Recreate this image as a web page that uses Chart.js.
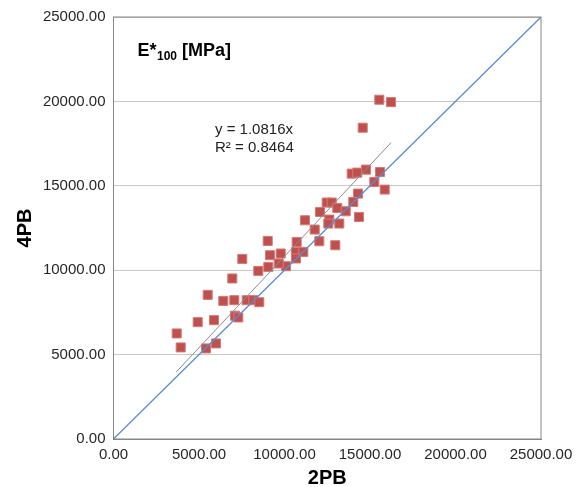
<!DOCTYPE html>
<html>
<head>
<meta charset="utf-8">
<script src="https://cdn.jsdelivr.net/npm/chart.js@4.4.0/dist/chart.umd.min.js"></script>
<style>
  body { margin: 0; background: #fff; }
  #wrap { width: 585px; height: 487px; position: relative; }
</style>
</head>
<body>
<div id="wrap"><canvas id="chart"></canvas></div>
<script>
const x2PB = [15544, 16228, 14573, 13930, 14257, 14766, 15585, 15252, 15860, 14298,
              14023, 14357, 12468, 12760, 13088, 13579, 12076, 12620, 12562, 13205,
              11199, 11766, 12035, 12971, 10713, 9018, 7532, 9152, 9778, 10673,
              11100, 10673, 10088, 9053, 8468, 9661, 6947, 5509, 6421, 7064,
              7790, 8176, 8526, 7105, 7298, 4924, 5877, 3696, 3930, 5409, 5994];
const y4PB = [20100, 19958, 18443, 15722, 15781, 15958, 15816, 15225, 14775, 14538,
              14041, 13153, 14006, 14006, 13686, 13491, 13449, 13000, 12763, 12763,
              12958, 12408, 11716, 11479, 11674, 11733, 10668, 10887, 10988, 11083,
              11083, 10692, 10236, 10195, 9958, 10396, 9509, 8538, 8183, 8225,
              8225, 8225, 8106, 7307, 7201, 6923, 7041, 6254, 5426, 5367, 5663];

// linear trend (y = 1.0816x), endpoints as drawn
const trendX = [3670, 16230];
const trendY = [3970, 17555];

// line of equality
const equalX = [0, 25000];
const equalY = [0, 25000];

const tickVals = [0, 5000, 10000, 15000, 20000, 25000];

const trendLabel = ["y = 1.0816x", "R² = 0.8464"];

function pairs(xs, ys) {
    return xs.map((x, i) => ({ x: x, y: ys[i] }));
}

const FONT = "'Liberation Sans', Arial, sans-serif";

// title inside plot, border box and trend equation
const extras = {
    id: "extras",
    afterDraw(chart) {
        const ctx = chart.ctx;
        const a = chart.chartArea;
        ctx.save();

        ctx.strokeStyle = "#868686";
        ctx.lineWidth = 1;
        ctx.strokeRect(a.left, a.top, a.right - a.left, a.bottom - a.top);

        ctx.fillStyle = "#000";
        ctx.textBaseline = "alphabetic";
        ctx.textAlign = "left";
        let x = 137.5;
        ctx.font = "bold 18px " + FONT;
        ctx.fillText("E*", x, 55.5);
        x += ctx.measureText("E*").width + 0.5;
        ctx.font = "bold 12px " + FONT;
        ctx.fillText("100", x, 59.5);
        x += ctx.measureText("100").width;
        ctx.font = "bold 18px " + FONT;
        ctx.fillText(" [MPa]", x, 55.5);

        ctx.font = "15px " + FONT;
        ctx.fillStyle = "#222";
        ctx.fillText(trendLabel[0], 215, 134);
        ctx.fillText(trendLabel[1], 215, 152);
        ctx.restore();
    }
};

new Chart(document.getElementById("chart"), {
    type: "scatter",
    data: {
        datasets: [
            {
                label: "trend",
                type: "line",
                data: pairs(trendX, trendY),
                borderColor: "#8c8c8c",
                borderWidth: 1,
                pointRadius: 0,
                fill: false
            },
            {
                label: "equality",
                type: "line",
                data: pairs(equalX, equalY),
                borderColor: "#5b8bd0",
                borderWidth: 1.3,
                pointRadius: 0,
                fill: false
            },
            {
                label: "E*100",
                data: pairs(x2PB, y4PB),
                pointStyle: "rect",
                pointRadius: 6.4,
                backgroundColor: "#c0504d",
                borderColor: "#d27c79",
                borderWidth: 1
            }
        ]
    },
    options: {
        responsive: true,
        maintainAspectRatio: false,
        animation: false,
        layout: {
            padding: { left: 15, top: 16, right: 44, bottom: 0 }
        },
        plugins: {
            legend: { display: false },
            tooltip: { enabled: false }
        },
        scales: {
            x: {
                type: "linear",
                min: 0,
                max: 25000,
                afterBuildTicks: s => { s.ticks = tickVals.map(v => ({ value: v })); },
                afterFit: s => { s.height = 48; },
                ticks: {
                    padding: 7,
                    color: "#262626",
                    font: { family: FONT, size: 15 },
                    maxRotation: 0,
                    callback: v => v.toFixed(2)
                },
                grid: { display: false, drawTicks: false },
                border: { display: true, color: "#868686" },
                title: {
                    display: true,
                    text: "2PB",
                    color: "#000",
                    font: { family: FONT, size: 20, weight: "bold", lineHeight: 0.85 },
                    padding: { top: 0, bottom: 0 }
                }
            },
            y: {
                type: "linear",
                min: 0,
                max: 25000,
                afterBuildTicks: s => { s.ticks = tickVals.map(v => ({ value: v })); },
                afterFit: s => { s.width = 98.5; },
                ticks: {
                    padding: 8,
                    color: "#262626",
                    font: { family: FONT, size: 15 },
                    callback: v => v.toFixed(2)
                },
                grid: { color: "#c8c8c8", drawTicks: false },
                border: { display: true, color: "#868686" },
                title: {
                    display: true,
                    text: "4PB",
                    color: "#000",
                    font: { family: FONT, size: 20, weight: "bold", lineHeight: 1 },
                    padding: { top: 0, bottom: 0 }
                }
            }
        }
    },
    plugins: [extras]
});
</script>
</body>
</html>
